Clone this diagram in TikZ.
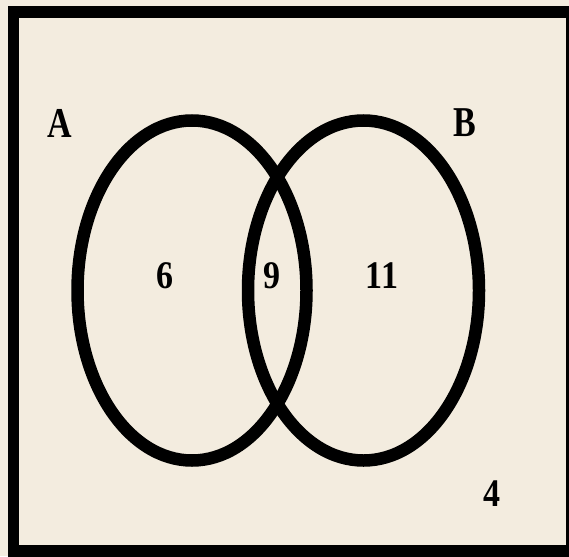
\documentclass[tikz,border=0pt]{standalone}
\usepackage{fontspec}
\setmainfont{Liberation Serif}
\usetikzlibrary{shapes.geometric}
\definecolor{paper}{RGB}{243,236,223}
\begin{document}
\begin{tikzpicture}[x=1pt,y=-1pt,
  setring/.style={ellipse, draw=black, line width=12.5pt, inner sep=0pt,
    minimum width=229pt, minimum height=340pt},
  lbl/.style={inner sep=0pt, font=\fontsize{34}{34}\selectfont\bfseries},
  frame/.style={draw=black, line width=11.5pt}]
\useasboundingbox (0,0) rectangle (569,556);
\fill[paper] (0,0) rectangle (569,556);
\begin{scope}
\clip (0,0) rectangle (569,556);
\draw[frame] (13.5,12) rectangle (572,551);
\end{scope}
\node[setring] (setA) at (192,290.5) {};
\node[setring, minimum width=231pt] (setB) at (363.5,290.5) {};
\node[lbl] (labA) at (59.5,123) {\scalebox{1}[1.25]{A}};
\node[lbl] (labB) at (465,123) {\scalebox{1}[1.25]{B}};
\node[lbl] (onlyA) at (165,276) {\scalebox{1}[1.15]{6}};
\node[lbl] (both) at (272,276) {\scalebox{1}[1.15]{9}};
\node[lbl] (onlyB) at (382,276) {\scalebox{1}[1.15]{11}};
\node[lbl] (none) at (492,494) {\scalebox{1}[1.15]{4}};
\end{tikzpicture}
\end{document}
